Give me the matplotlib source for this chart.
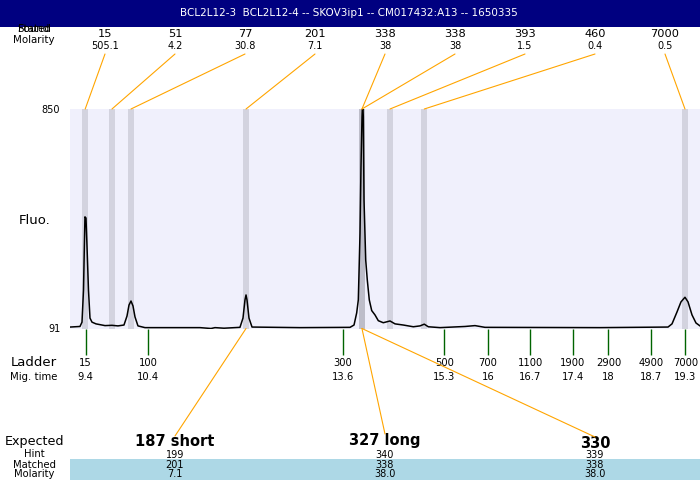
import numpy as np
from matplotlib import pyplot as plt
from matplotlib.patches import Rectangle, ConnectionPatch

title = "BCL2L12-3  BCL2L12-4 -- SKOV3ip1 -- CM017432:A13 -- 1650335"

# electropherogram (migration time, fluorescence)
trace_time = [9.141, 9.306, 9.339, 9.364, 9.380, 9.388, 9.405, 9.421, 9.446, 9.471,
              9.504, 9.570, 9.719, 9.834, 9.933, 10.032, 10.082, 10.115, 10.148, 10.181,
              10.214, 10.263, 10.379, 11.287, 11.469, 11.535, 11.683, 11.947, 11.997, 12.030,
              12.047, 12.063, 12.096, 12.146, 12.938, 13.764, 13.830, 13.874, 13.901, 13.929,
              13.945, 13.962, 13.973, 13.983, 13.995, 14.023, 14.049, 14.082, 14.122, 14.176,
              14.231, 14.313, 14.424, 14.507, 14.644, 14.809, 14.919, 14.990, 15.056, 15.250,
              15.662, 15.827, 15.992, 17.891, 19.014, 19.080, 19.162, 19.228, 19.294, 19.344,
              19.410, 19.476, 19.542]
trace_fluo = [96, 98, 113, 224, 397, 477, 473, 380, 224, 127,
              113, 107, 101, 102, 100, 103, 134, 172, 186, 169,
              131, 100, 94, 94, 91, 94, 92, 95, 127, 190,
              207, 190, 127, 96, 94, 95, 103, 145, 190, 421,
              649, 822, 880, 823, 535, 328, 259, 190, 153, 138,
              118, 111, 117, 107, 103, 97, 100, 106, 97, 94,
              98, 101, 95, 94, 96, 107, 148, 183, 199, 183,
              138, 110, 100]

# found peaks
peak_size = [15, 51, 77, 201, 338, 338, 393, 460, 7000]
peak_molarity = [505.1, 4.2, 30.8, 7.1, 38, 38, 1.5, 0.4, 0.5]
peak_time = [9.392, 9.834, 10.148, 12.047, 13.961, 13.961, 14.424, 14.990, 19.294]

# ladder
ladder_size = [15, 100, 300, 500, 700, 1100, 1900, 2900, 4900, 7000]
ladder_time = [9.40, 10.43, 13.64, 15.32, 16.04, 16.74, 17.44, 18.03, 18.74, 19.30]

# expected products
expected = ["187 short", "327 long", "330"]
hint = [199, 340, 339]
matched = [201, 338, 338]
matched_molarity = [7.1, 38.0, 38.0]
matched_time = [12.047, 13.961, 13.961]

fluo_min, fluo_max = 91, 850

fig = plt.figure(figsize=(7, 4.8), dpi=100)

# main plot area (pixel box 70..700 x 109..328.5)
ax = fig.add_axes([70 / 700, (480 - 328.5) / 480, 630 / 700, 219.5 / 480])
ax.set_facecolor("#f0f0fc")
ax.set_xlim(9.141, 19.542)
ax.set_ylim(fluo_min, fluo_max)
for s in ax.spines.values():
    s.set_visible(False)
ax.set_xticks([])
ax.set_yticks([fluo_min, fluo_max])
ax.tick_params(axis="y", length=0, pad=7, labelsize=7)

for t in peak_time:
    ax.axvspan(t - 0.05, t + 0.05, color="#80808c", alpha=0.26, lw=0)
ax.plot(trace_time, trace_fluo, color="black", lw=1.1)

# ladder ticks and labels under the plot
xt = ax.get_xaxis_transform()
ax.vlines(ladder_time, -0.121, 0, transform=xt, color="darkgreen", lw=1, clip_on=False)
for s, t in zip(ladder_size, ladder_time):
    ax.text(t, -0.157, str(s), transform=xt, ha="center", va="center", fontsize=7.2)
    ax.text(t, -0.221, f"{round(t, 1):g}", transform=xt, ha="center", va="center", fontsize=7.2)

# overlay in pixel coords for everything else
ov = fig.add_axes([0, 0, 1, 1])
ov.set_xlim(0, 700)
ov.set_ylim(480, 0)
ov.axis("off")
ov.patch.set_alpha(0)

ov.add_patch(Rectangle((0, 0), 700, 26.5, color="#000080", lw=0))
ov.text(349, 13, title, color="white", ha="center", va="center", fontsize=7.5)

ov.text(34, 29, "Stated", ha="center", va="center", fontsize=7.4)
ov.text(34, 29, "Found", ha="center", va="center", fontsize=7.4)
ov.text(34, 40, "Molarity", ha="center", va="center", fontsize=7.4)
ov.text(35, 220, "Fluo.", ha="center", va="center", fontsize=9.5)
ov.text(34, 363, "Ladder", ha="center", va="center", fontsize=9.5)
ov.text(34, 377, "Mig. time", ha="center", va="center", fontsize=7.3)

slot_x = 105 + 70 * np.arange(len(peak_size))
for x, s, m, t in zip(slot_x, peak_size, peak_molarity, peak_time):
    ov.text(x, 34, str(s), ha="center", va="center", fontsize=8.2)
    ov.text(x, 46, f"{m:g}", ha="center", va="center", fontsize=7)
    fig.add_artist(ConnectionPatch(xyA=(x, 54), coordsA=ov.transData,
                                   xyB=(t, fluo_max), coordsB=ax.transData,
                                   color="orange", lw=0.8))

# expected / hint / matched table
ov.add_patch(Rectangle((70, 459), 630, 21, color="#add8e6", lw=0))
ov.text(34, 442, "Expected", ha="center", va="center", fontsize=9.2)
ov.text(34, 454, "Hint", ha="center", va="center", fontsize=7.2)
ov.text(34, 465, "Matched", ha="center", va="center", fontsize=7.2)
ov.text(34, 474, "Molarity", ha="center", va="center", fontsize=7.2)

exp_x = slot_x[[1, 4, 7]]
exp_y = [442, 440, 443]
for x, y, e, h, m, mm, t in zip(exp_x, exp_y, expected, hint, matched, matched_molarity, matched_time):
    ov.text(x, y, e, ha="center", va="center", fontsize=10.5, fontweight="bold")
    ov.text(x, 455, str(h), ha="center", va="center", fontsize=7)
    ov.text(x, 465, str(m), ha="center", va="center", fontsize=7)
    ov.text(x, 474, f"{mm:.1f}", ha="center", va="center", fontsize=7)
    fig.add_artist(ConnectionPatch(xyA=(x, y - 6), coordsA=ov.transData,
                                   xyB=(t, fluo_min), coordsB=ax.transData,
                                   color="orange", lw=0.8))

fig.savefig("out.png", dpi=100)
